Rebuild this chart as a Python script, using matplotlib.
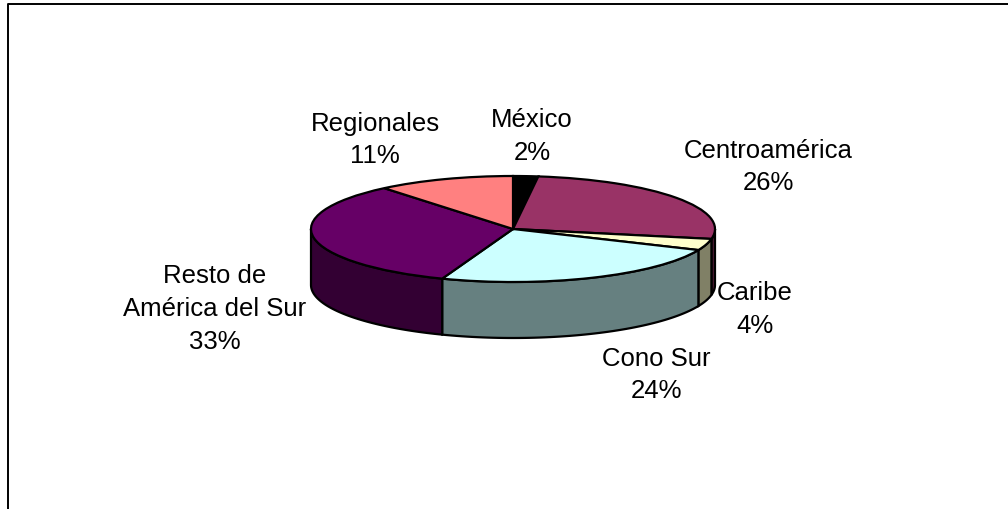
import numpy as np
import matplotlib
matplotlib.use('Agg')
import matplotlib.pyplot as plt

regions = ['México', 'Centroamérica', 'Caribe', 'Cono Sur', 'Resto de\nAmérica del Sur', 'Regionales']
shares = [2, 26, 3.5, 24.2, 33.3, 11]
share_labels = ['2%', '26%', '4%', '24%', '33%', '11%']
top_colors = ['#000000', '#993366', '#FFFFCC', '#CCFFFF', '#660066', '#FF8080']
side_colors = ['#000000', '#4D1A33', '#808066', '#668080', '#330033', '#804040']

W, H = 1008, 510
cx, cy = 513, 230
rx, ry = 202, 53
depth = 56 / ry

plt.rcParams['font.family'] = ['Liberation Sans', 'DejaVu Sans']

fig = plt.figure(figsize=(W / 100, H / 100), dpi=100)
ax = fig.add_axes([0, 0, 1, 1])

labels = ['%s\n%s' % (r, s) for r, s in zip(regions, share_labels)]
ax.pie(shares, colors=top_colors, startangle=90, counterclock=False, radius=1,
       wedgeprops=dict(edgecolor='k', linewidth=1.6))
ax.set_aspect('auto')
ax.set_xlim(-cx / rx, (W - cx) / rx)
ax.set_ylim(-(H - cy) / ry, cy / ry)

# side of the disc, only the front half shows
edges = np.cumsum([0] + shares) * 3.6
for a0, a1, col in zip(edges[:-1], edges[1:], side_colors):
    a0, a1 = max(a0, 90), min(a1, 270)
    if a1 <= a0:
        continue
    t = np.radians(np.linspace(a0, a1, 60))
    x = np.sin(t)
    y = np.cos(t)
    ax.fill(np.r_[x, x[::-1]], np.r_[y, y[::-1] - depth], facecolor=col,
            edgecolor='k', linewidth=1.6, zorder=0.5)

# labels and frame in pixel coordinates
ov = fig.add_axes([0, 0, 1, 1])
ov.set_xlim(0, W)
ov.set_ylim(H, 0)
ov.axis('off')
ov.plot([8, 8, W], [H, 5, 5], color='k', linewidth=1.4)

label_pos = [(532, 136.5), (768, 167), (755, 309.5), (656, 375), (215, 309), (375, 140)]
for lab, (lx, ly) in zip(labels, label_pos):
    ov.text(lx, ly, lab, ha='center', va='center', fontsize=18.5, color='k', linespacing=1.45)

fig.savefig('out.png', dpi=100, facecolor='white')
